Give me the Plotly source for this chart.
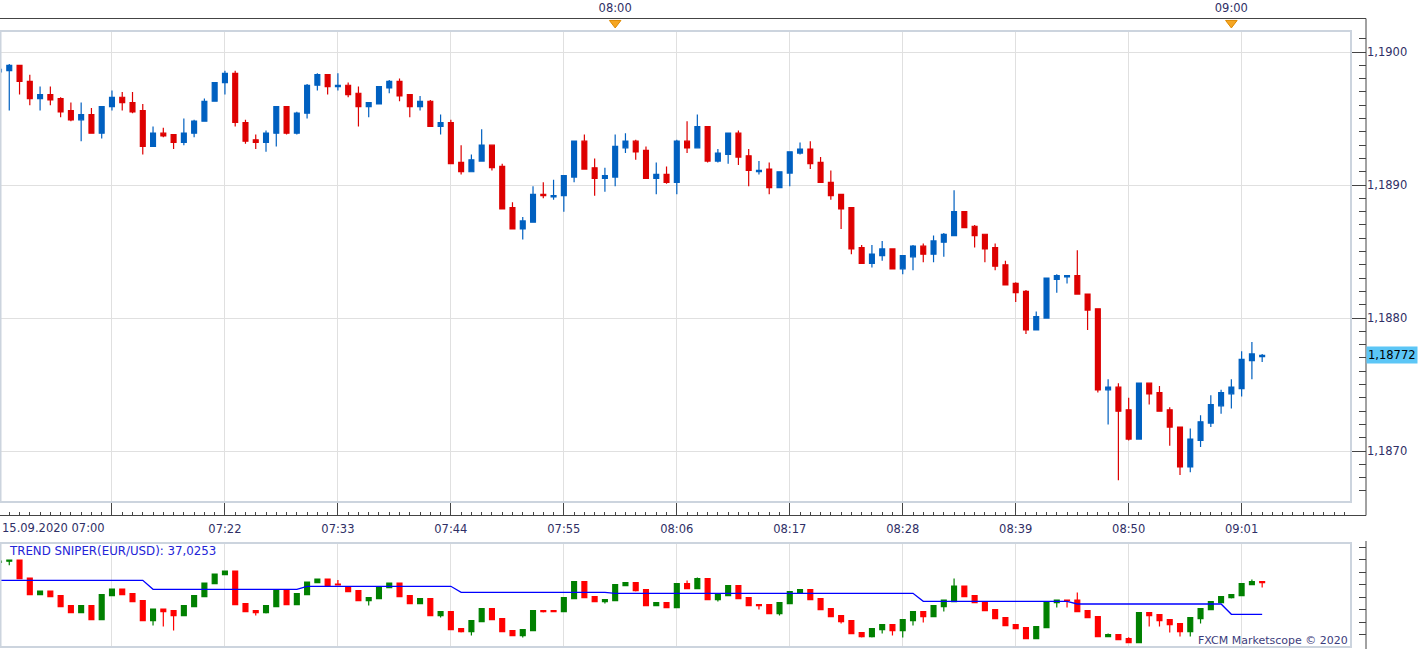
import plotly.graph_objects as go

# ---------------- data ----------------
# minute offsets from 15.09.2020 07:00
minutes = list(range(124))

price_open = [1.18985, 1.18986, 1.18990, 1.18978, 1.18965, 1.18968, 1.18965, 1.18956, 1.18949, 1.18953,
              1.18939, 1.18959, 1.18966, 1.18962, 1.18956, 1.18929, 1.18939, 1.18938, 1.18932, 1.18939,
              1.18948, 1.18963, 1.18977, 1.18984, 1.18947, 1.18934, 1.18932, 1.18939, 1.18959, 1.18939,
              1.18954, 1.18975, 1.18983, 1.18974, 1.18975, 1.18969, 1.18959, 1.18961, 1.18973, 1.18978,
              1.18968, 1.18959, 1.18963, 1.18944, 1.18947, 1.18917, 1.18910, 1.18918, 1.18930, 1.18914,
              1.18883, 1.18867, 1.18872, 1.18893, 1.18891, 1.18892, 1.18906, 1.18933, 1.18913, 1.18905,
              1.18906, 1.18928, 1.18933, 1.18926, 1.18905, 1.18908, 1.18902, 1.18933, 1.18928, 1.18944,
              1.18918, 1.18923, 1.18939, 1.18922, 1.18910, 1.18912, 1.18898, 1.18909, 1.18924, 1.18927,
              1.18917, 1.18902, 1.18893, 1.18883, 1.18853, 1.18841, 1.18847, 1.18852, 1.18837, 1.18846,
              1.18854, 1.18848, 1.18857, 1.18862, 1.18880, 1.18869, 1.18863, 1.18853, 1.18840, 1.18826,
              1.18820, 1.18791, 1.18800, 1.18829, 1.18831, 1.18832, 1.18818, 1.18807, 1.18746, 1.18748,
              1.18731, 1.18709, 1.18751, 1.18744, 1.18731, 1.18718, 1.18688, 1.18708, 1.18721, 1.18734,
              1.18743, 1.18747, 1.18768, 1.18771]

price_high = [1.18988, 1.18991, 1.18990, 1.18983, 1.18974, 1.18974, 1.18966, 1.18962, 1.18962, 1.18958,
              1.18959, 1.18971, 1.18970, 1.18970, 1.18961, 1.18944, 1.18943, 1.18938, 1.18950, 1.18949,
              1.18965, 1.18977, 1.18986, 1.18986, 1.18949, 1.18938, 1.18941, 1.18959, 1.18959, 1.18955,
              1.18976, 1.18984, 1.18983, 1.18984, 1.18977, 1.18974, 1.18962, 1.18974, 1.18979, 1.18980,
              1.18968, 1.18967, 1.18964, 1.18953, 1.18949, 1.18930, 1.18923, 1.18942, 1.18930, 1.18916,
              1.18887, 1.18876, 1.18899, 1.18902, 1.18904, 1.18907, 1.18933, 1.18938, 1.18920, 1.18913,
              1.18938, 1.18939, 1.18934, 1.18929, 1.18917, 1.18914, 1.18934, 1.18948, 1.18953, 1.18944,
              1.18927, 1.18939, 1.18941, 1.18927, 1.18918, 1.18917, 1.18910, 1.18925, 1.18932, 1.18933,
              1.18921, 1.18911, 1.18893, 1.18883, 1.18855, 1.18855, 1.18858, 1.18852, 1.18847, 1.18855,
              1.18856, 1.18862, 1.18864, 1.18896, 1.18880, 1.18870, 1.18863, 1.18856, 1.18843, 1.18827,
              1.18821, 1.18805, 1.18830, 1.18833, 1.18832, 1.18851, 1.18818, 1.18807, 1.18754, 1.18751,
              1.18740, 1.18751, 1.18751, 1.18749, 1.18733, 1.18718, 1.18717, 1.18727, 1.18742, 1.18746,
              1.18754, 1.18775, 1.18782, 1.18773]

price_low = [1.18984, 1.18956, 1.18968, 1.18960, 1.18956, 1.18960, 1.18951, 1.18948, 1.18933, 1.18939,
             1.18935, 1.18956, 1.18956, 1.18954, 1.18923, 1.18929, 1.18936, 1.18927, 1.18930, 1.18936,
             1.18948, 1.18963, 1.18968, 1.18944, 1.18931, 1.18927, 1.18925, 1.18929, 1.18938, 1.18938,
             1.18950, 1.18971, 1.18968, 1.18971, 1.18966, 1.18944, 1.18951, 1.18961, 1.18969, 1.18963,
             1.18951, 1.18956, 1.18944, 1.18938, 1.18916, 1.18908, 1.18910, 1.18918, 1.18911, 1.18882,
             1.18867, 1.18859, 1.18872, 1.18890, 1.18889, 1.18880, 1.18902, 1.18912, 1.18892, 1.18895,
             1.18899, 1.18924, 1.18919, 1.18905, 1.18893, 1.18901, 1.18893, 1.18924, 1.18928, 1.18917,
             1.18917, 1.18916, 1.18915, 1.18899, 1.18908, 1.18893, 1.18898, 1.18899, 1.18923, 1.18912,
             1.18902, 1.18889, 1.18867, 1.18848, 1.18841, 1.18838, 1.18843, 1.18837, 1.18833, 1.18836,
             1.18842, 1.18842, 1.18846, 1.18862, 1.18868, 1.18853, 1.18842, 1.18836, 1.18825, 1.18812,
             1.18788, 1.18791, 1.18800, 1.18819, 1.18826, 1.18818, 1.18791, 1.18744, 1.18720, 1.18678,
             1.18708, 1.18709, 1.18735, 1.18730, 1.18704, 1.18682, 1.18684, 1.18703, 1.18718, 1.18728,
             1.18732, 1.18741, 1.18754, 1.18767]

price_close = [1.18987, 1.18990, 1.18978, 1.18965, 1.18968, 1.18964, 1.18955, 1.18949, 1.18953, 1.18939,
               1.18959, 1.18966, 1.18962, 1.18955, 1.18929, 1.18939, 1.18937, 1.18932, 1.18939, 1.18948,
               1.18963, 1.18977, 1.18984, 1.18947, 1.18933, 1.18932, 1.18939, 1.18959, 1.18939, 1.18954,
               1.18975, 1.18983, 1.18974, 1.18975, 1.18968, 1.18959, 1.18962, 1.18974, 1.18978, 1.18967,
               1.18959, 1.18963, 1.18944, 1.18947, 1.18916, 1.18910, 1.18919, 1.18930, 1.18913, 1.18882,
               1.18867, 1.18873, 1.18893, 1.18892, 1.18892, 1.18907, 1.18933, 1.18912, 1.18905, 1.18907,
               1.18929, 1.18933, 1.18925, 1.18905, 1.18908, 1.18902, 1.18933, 1.18928, 1.18944, 1.18918,
               1.18924, 1.18939, 1.18921, 1.18911, 1.18911, 1.18898, 1.18910, 1.18925, 1.18927, 1.18916,
               1.18902, 1.18892, 1.18882, 1.18852, 1.18841, 1.18848, 1.18852, 1.18837, 1.18847, 1.18854,
               1.18848, 1.18858, 1.18863, 1.18880, 1.18868, 1.18862, 1.18852, 1.18839, 1.18825, 1.18819,
               1.18791, 1.18801, 1.18830, 1.18832, 1.18832, 1.18818, 1.18806, 1.18746, 1.18748, 1.18730,
               1.18709, 1.18751, 1.18743, 1.18730, 1.18718, 1.18688, 1.18709, 1.18722, 1.18735, 1.18744,
               1.18748, 1.18769, 1.18773, 1.18772]

last_price = 1.18772

ind_open = [62.8, 63.4, 64.0, 55.0, 46.7, 48.5, 46.2, 41.2, 37.7, 41.2,
            34.2, 46.2, 49.5, 47.2, 43.7, 33.7, 39.5, 38.7, 36.2, 40.7,
            45.7, 52.2, 56.7, 58.5, 42.2, 38.7, 37.7, 40.7, 48.7, 41.7,
            46.7, 52.7, 54.5, 52.0, 50.7, 48.7, 43.7, 44.7, 50.2, 52.5,
            46.2, 42.2, 44.7, 36.2, 38.2, 29.7, 28.2, 33.2, 39.7, 34.7,
            28.7, 26.2, 28.7, 38.7, 38.7, 38.2, 44.7, 53.2, 45.7, 43.2,
            43.7, 51.2, 52.7, 49.2, 41.2, 42.7, 40.2, 52.2, 49.7, 54.7,
            44.2, 46.2, 51.2, 45.2, 41.7, 41.7, 37.2, 42.2, 47.7, 49.2,
            44.7, 39.7, 36.2, 33.7, 27.7, 25.7, 29.2, 31.7, 28.7, 33.7,
            38.2, 35.7, 40.7, 43.2, 51.0, 46.2, 43.2, 39.2, 35.2, 31.7,
            30.2, 24.7, 30.2, 42.7, 44.0, 44.0, 38.7, 35.7, 25.7, 26.7,
            24.7, 22.7, 37.7, 36.7, 34.2, 32.2, 28.2, 34.7, 39.2, 42.7,
            45.2, 46.2, 51.7, 53.2]

ind_close = [63.5, 64.0, 54.7, 46.7, 48.5, 45.7, 40.7, 37.7, 41.2, 34.2,
             46.7, 49.5, 46.7, 43.2, 33.7, 39.5, 38.2, 36.2, 41.2, 46.2,
             52.5, 57.0, 58.5, 41.7, 38.2, 37.7, 41.2, 48.7, 41.7, 47.2,
             53.0, 54.5, 51.2, 51.5, 48.2, 43.7, 45.2, 50.7, 52.5, 45.7,
             42.2, 44.7, 36.2, 38.2, 29.2, 28.2, 33.7, 39.7, 34.2, 28.2,
             26.2, 29.2, 38.7, 38.2, 38.2, 45.2, 53.2, 45.2, 43.2, 44.2,
             51.7, 52.7, 48.7, 41.2, 42.7, 40.2, 52.2, 49.7, 54.7, 44.2,
             46.7, 51.2, 44.7, 41.2, 41.2, 37.2, 42.7, 48.2, 49.2, 44.2,
             39.2, 35.7, 33.2, 27.2, 25.7, 29.7, 31.7, 28.7, 34.2, 38.2,
             35.7, 41.2, 44.0, 51.0, 45.7, 42.7, 38.7, 34.7, 31.2, 29.7,
             24.7, 30.7, 43.2, 44.0, 43.7, 38.2, 35.2, 25.7, 26.7, 24.2,
             22.7, 37.7, 36.2, 33.7, 31.7, 28.2, 35.2, 39.7, 43.2, 45.7,
             46.7, 52.2, 53.2, 52.7]

ind_high = [63.5, 64.0, 64.0, 55.0, 48.5, 48.5, 46.2, 41.2, 41.2, 41.2,
            46.7, 49.5, 49.5, 47.2, 43.7, 39.5, 39.5, 38.7, 41.2, 46.2,
            52.5, 57.0, 58.5, 58.5, 42.2, 38.7, 41.2, 48.7, 48.7, 47.2,
            53.0, 54.5, 54.5, 54.0, 50.7, 48.7, 45.2, 50.7, 52.5, 52.5,
            46.2, 44.7, 44.7, 38.2, 38.2, 29.7, 33.7, 39.7, 39.7, 34.7,
            28.7, 29.2, 38.7, 38.7, 38.7, 45.2, 53.2, 53.2, 45.7, 44.2,
            51.7, 52.7, 52.7, 49.2, 42.7, 42.7, 52.2, 53.7, 55.2, 54.7,
            46.7, 51.2, 51.2, 45.2, 41.7, 41.7, 42.7, 48.2, 49.2, 49.2,
            44.7, 39.7, 36.2, 33.7, 27.7, 29.7, 31.7, 31.7, 34.2, 38.2,
            38.2, 41.2, 44.0, 54.7, 51.0, 46.2, 43.2, 39.2, 35.2, 31.7,
            30.2, 30.7, 43.2, 44.0, 44.0, 47.7, 38.7, 35.7, 27.2, 26.7,
            25.4, 37.7, 37.7, 36.7, 34.2, 32.2, 35.2, 39.7, 43.2, 45.7,
            46.7, 52.2, 54.2, 53.2]

ind_low = [62.8, 61.4, 54.7, 46.7, 46.7, 45.7, 40.7, 37.7, 37.7, 34.2,
           34.2, 46.2, 46.7, 43.2, 33.7, 31.2, 30.7, 28.7, 36.2, 40.7,
           45.7, 52.2, 56.7, 41.7, 38.2, 36.2, 37.2, 40.7, 41.7, 41.7,
           46.7, 52.7, 51.2, 51.5, 48.2, 43.7, 41.2, 44.7, 50.2, 45.7,
           42.2, 42.2, 36.2, 35.2, 29.2, 27.7, 26.2, 33.2, 34.2, 28.2,
           26.2, 25.2, 28.7, 37.7, 38.2, 38.2, 44.7, 45.2, 43.2, 42.2,
           43.7, 51.2, 48.2, 41.2, 41.2, 40.2, 40.2, 49.7, 49.7, 44.2,
           43.2, 46.2, 44.7, 41.2, 39.2, 37.2, 36.2, 42.2, 47.7, 44.2,
           39.2, 35.7, 32.2, 27.2, 25.2, 25.2, 27.2, 26.2, 25.2, 31.2,
           32.7, 35.7, 38.2, 43.2, 45.7, 42.7, 38.7, 34.7, 31.2, 29.7,
           24.7, 24.7, 30.2, 40.2, 40.2, 38.2, 35.2, 25.7, 25.7, 24.2,
           22.7, 22.7, 30.7, 30.7, 27.7, 25.7, 25.7, 32.2, 39.2, 42.7,
           44.7, 46.2, 51.7, 50.2]

trend_line = ([53.85] * 15 + [49.35] * 15 + [50.85] * 15 + [47.85] * 15 +
              [47.35] * 30 + [43.35] * 15 + [42.0] * 15 + [36.85] * 4)

time_tickvals = [0, 11, 22, 33, 44, 55, 66, 77, 88, 99, 110, 121, 132]
time_ticktext = ['', '', '07:22', '07:33', '07:44', '07:55', '08:06', '08:17',
                 '08:28', '08:39', '08:50', '09:01', '']
first_label = '15.09.2020 07:00'
hour_ticks = [60, 120]
hour_labels = ['08:00', '09:00']
indicator_title = 'TREND SNIPER(EUR/USD): 37,0253'

# ---------------- layout helpers ----------------
W, H = 1423, 649
def px(x):
    return x / W
def py(y):
    return 1 - y / H

AXIS_X = 1366
BOX_R = 1351
TXT = '#2f2f66'
GRID = '#e0e0e0'
TICKC = '#444444'
BLUE = '#0060c0'
RED = '#dd0000'
FS = 11.5

fig = go.Figure()

fig.add_trace(go.Candlestick(
    x=minutes, open=price_open, high=price_high, low=price_low, close=price_close,
    xaxis='x', yaxis='y',
    increasing=dict(line=dict(color=BLUE, width=1.2), fillcolor=BLUE),
    decreasing=dict(line=dict(color=RED, width=1.2), fillcolor=RED),
    hoverinfo='skip', showlegend=False))

fig.add_trace(go.Candlestick(
    x=minutes, open=ind_open, high=ind_high, low=ind_low, close=ind_close,
    xaxis='x2', yaxis='y2',
    increasing=dict(line=dict(color='#008000', width=1.2), fillcolor='#008000'),
    decreasing=dict(line=dict(color='#ff0000', width=1.2), fillcolor='#ff0000'),
    hoverinfo='skip', showlegend=False))

fig.add_trace(go.Scatter(
    x=minutes, y=trend_line, xaxis='x2', yaxis='y2', mode='lines',
    line=dict(color='#0000ff', width=1.3), hoverinfo='skip', showlegend=False))

fig.add_trace(go.Scatter(
    x=hour_ticks, y=[0.62] * len(hour_ticks), xaxis='x3', yaxis='y3', mode='markers',
    marker=dict(symbol='triangle-down', size=10, color='#f5a623',
                line=dict(color='#e08a00', width=1)),
    hoverinfo='skip', showlegend=False))

xr = [0.0974, 131.65]

fig.update_layout(
    width=W, height=H,
    margin=dict(l=0, r=0, t=0, b=0),
    paper_bgcolor='white', plot_bgcolor='white',
    separators=',.',
    font=dict(family='DejaVu Sans', size=FS, color=TXT),
    showlegend=False,
    boxgap=0.32,
    xaxis=dict(domain=[0, px(BOX_R)], range=xr, anchor='free', position=py(515),
               side='bottom', tickmode='array', tickvals=time_tickvals, ticktext=time_ticktext,
               ticks='inside', ticklen=13, tickcolor=TICKC, tickwidth=1,
               ticklabelstandoff=5,
               minor=dict(tickmode='linear', tick0=0, dtick=1, ticks='inside', ticklen=3,
                          tickcolor=TICKC, showgrid=False),
               showgrid=True, gridcolor=GRID, gridwidth=1, showline=False, zeroline=False,
               rangeslider=dict(visible=False), fixedrange=True,
               tickfont=dict(size=FS, color=TXT)),
    yaxis=dict(domain=[py(502), py(31)], range=[1.186617, 1.190158], anchor='free',
               position=px(AXIS_X), side='right', tickmode='linear', tick0=1.187, dtick=0.001,
               tickformat='.4f', ticks='inside', ticklen=15, tickcolor=TICKC,
               minor=dict(tickmode='linear', tick0=1.187, dtick=0.0001, ticks='inside',
                          ticklen=7, tickcolor=TICKC, showgrid=False),
               showgrid=True, gridcolor=GRID, showline=False, zeroline=False, fixedrange=True,
               tickfont=dict(size=FS, color=TXT)),
    xaxis2=dict(domain=[0, px(BOX_R)], range=xr, anchor='y2', matches='x',
                tickmode='array', tickvals=time_tickvals, showticklabels=False, ticks='',
                showgrid=True, gridcolor=GRID, showline=False, zeroline=False,
                rangeslider=dict(visible=False), fixedrange=True),
    yaxis2=dict(domain=[py(647), py(543)], range=[20.5, 72.5], anchor='free',
                position=px(AXIS_X), side='right', tickmode='linear', tick0=45.35, dtick=6.25,
                ticks='inside', ticklen=7, tickcolor=TICKC, showticklabels=False,
                showgrid=False, showline=False, zeroline=False, fixedrange=True),
    xaxis3=dict(domain=[0, px(BOX_R)], range=xr, anchor='free', position=py(18), side='top',
                tickmode='array', tickvals=hour_ticks, ticktext=hour_labels, ticks='',
                ticklabelstandoff=4,
                showgrid=False, showline=False, zeroline=False, fixedrange=True,
                tickfont=dict(size=FS, color=TXT)),
    yaxis3=dict(domain=[py(31), py(18)], range=[0, 1], anchor='x3', visible=False,
                fixedrange=True),
)

shapes = [
    # main plot box
    dict(type='rect', xref='paper', yref='paper', x0=px(0.5), x1=px(BOX_R), y0=py(502), y1=py(31),
         line=dict(color='#ccd4de', width=2), layer='above'),
    # indicator box
    dict(type='rect', xref='paper', yref='paper', x0=px(0.5), x1=px(BOX_R), y0=py(647), y1=py(543),
         line=dict(color='#ccd4de', width=2), layer='above'),
    # outer frame lines
    dict(type='line', xref='paper', yref='paper', x0=0, x1=px(AXIS_X), y0=py(18.5), y1=py(18.5),
         line=dict(color='#444444', width=1)),
    dict(type='line', xref='paper', yref='paper', x0=px(AXIS_X), x1=px(AXIS_X), y0=py(18.5), y1=py(515.5),
         line=dict(color='#444444', width=1)),
    dict(type='line', xref='paper', yref='paper', x0=0, x1=px(AXIS_X), y0=py(515.5), y1=py(515.5),
         line=dict(color='#444444', width=1)),
    dict(type='line', xref='paper', yref='paper', x0=px(AXIS_X), x1=px(AXIS_X), y0=py(541), y1=py(649),
         line=dict(color='#444444', width=1)),
]

annotations = [
    dict(text=first_label, xref='paper', yref='paper', x=0, y=py(528), xanchor='left',
         yanchor='middle', showarrow=False, font=dict(size=FS, color=TXT)),
    dict(text=indicator_title, xref='paper', yref='paper', x=px(7), y=py(551), xanchor='left',
         yanchor='middle', showarrow=False, font=dict(size=11.8, color='#2424d8')),
    dict(text='FXCM Marketscope © 2020', xref='paper', yref='paper', x=px(1350), y=py(640),
         xanchor='right', yanchor='middle', showarrow=False, font=dict(size=11, color='#3c3c7c')),
    dict(text=f'{last_price:.5f}'.replace('.', ','), xref='paper', yref='y', x=px(AXIS_X),
         y=last_price, xanchor='left', yanchor='middle', showarrow=False,
         bgcolor='#5cc6f6', borderpad=1, font=dict(size=FS, color='#000000')),
]

fig.update_layout(shapes=shapes, annotations=annotations)

fig.write_html('out.html')
